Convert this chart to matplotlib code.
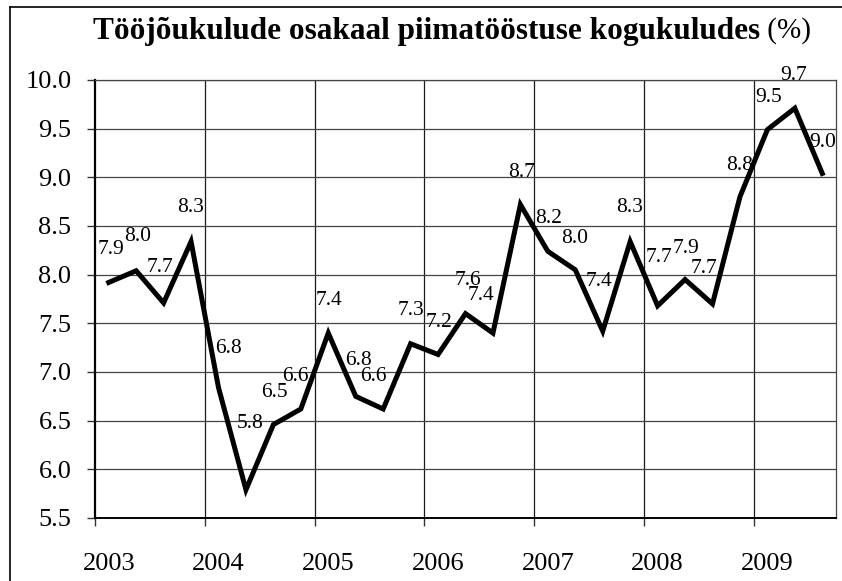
import matplotlib.pyplot as plt
from matplotlib.lines import Line2D

# Andmed (kvartalid 2003 I - 2009 III)
years = ["2003", "2004", "2005", "2006", "2007", "2008", "2009"]
values = [7.92, 8.04, 7.71, 8.34,
          6.84, 5.79, 6.46, 6.62,
          7.40, 6.75, 6.62, 7.29,
          7.18, 7.60, 7.40, 8.72,
          8.24, 8.05, 7.42, 8.34,
          7.68, 7.95, 7.70, 8.80,
          9.49, 9.71, 9.04]
labels = ["7.9", "8.0", "7.7", "8.3",
          "6.8", "5.8", "6.5", "6.6",
          "7.4", "6.8", "6.6", "7.3",
          "7.2", "7.6", "7.4", "8.7",
          "8.2", "8.0", "7.4", "8.3",
          "7.7", "7.9", "7.7", "8.8",
          "9.5", "9.7", "9.0"]

# nihked siltidele (pikslites, dx, dy)
label_offsets = [(2, 33), (1, 34), (-4, 35), (0, 34),
                 (10, 39), (4, 66), (1, 32), (-5, 32),
                 (1, 33), (3, 36), (-10, 32), (0, 33),
                 (1, 32), (2, 33), (-12, 38), (1, 32),
                 (1, 33), (-1, 31), (-4, 50), (-1, 34),
                 (1, 48), (1, 31), (-8, 35), (0, 31),
                 (1, 32), (-1, 33), (0, 31)]

W, H = 842, 581
fig = plt.figure(figsize=(W / 100, H / 100), dpi=100)
ax = fig.add_axes([95 / W, 1 - 518 / H, (836 - 95) / W, (518 - 80) / H])

serif = "Liberation Serif"
x = list(range(len(values)))

ax.plot(x, values, color="black", linewidth=3.6, solid_joinstyle="miter", zorder=3)

px = 72 / 100
for xi, yi, lab, (dx, dy) in zip(x, values, labels, label_offsets):
    ax.annotate(lab, (xi, yi), xytext=(dx * px, dy * px), textcoords="offset points",
                ha="center", va="center", fontsize=15.5, family=serif, zorder=4)

ax.set_xlim(-0.5, len(values) - 0.5)
ax.set_ylim(5.5, 10.0)

yt = [5.5 + 0.5 * i for i in range(10)]
ax.set_yticks(yt)
ax.set_yticklabels(["%.1f" % v for v in yt])

ax.set_xticks(list(range(0, len(values), 4)))
ax.set_xticklabels(years)
bounds = [b - 0.5 for b in range(0, len(values), 4)]
ax.set_xticks(bounds, minor=True)

ax.tick_params(axis="x", which="major", length=0, pad=25)
ax.tick_params(axis="x", which="minor", length=6, width=1, color="#333333", direction="out")
ax.tick_params(axis="y", length=6, width=1, color="#333333", direction="out", pad=11)
for t in ax.get_xticklabels() + ax.get_yticklabels():
    t.set_fontfamily(serif)
    t.set_fontsize(19)

ax.grid(False)
for b in bounds[1:]:
    ax.axvline(b, color="#1a1a1a", linewidth=0.9, zorder=1)
for v in yt[1:]:
    ax.axhline(v, color="#444444", linewidth=0.9, zorder=1)

ax.spines["left"].set_linewidth(1.6)
ax.spines["left"].set_color("black")
ax.spines["bottom"].set_linewidth(1.4)
ax.spines["bottom"].set_color("black")
ax.spines["top"].set_linewidth(0.9)
ax.spines["top"].set_color("#444444")
ax.spines["right"].set_linewidth(0.9)
ax.spines["right"].set_color("#444444")

# pealkiri: paks osa + tavakirjas "(%)"
t1 = fig.text(93 / W, 1 - 31 / H, "Tööjõukulude osakaal piimatööstuse kogukuludes",
              ha="left", va="center", fontsize=22.5, fontweight="bold", family=serif)
ax.annotate(" (%)", xy=(1, 0.5), xycoords=t1, ha="left", va="center",
            fontsize=21, family=serif, annotation_clip=False)

# raam
fig.add_artist(Line2D([10 / W, 10 / W], [0, 1 - 7 / H], transform=fig.transFigure,
                      color="black", linewidth=1.2))
fig.add_artist(Line2D([10 / W, 1], [1 - 7 / H, 1 - 7 / H], transform=fig.transFigure,
                      color="black", linewidth=1.2))

plt.savefig("out.png", dpi=100)
